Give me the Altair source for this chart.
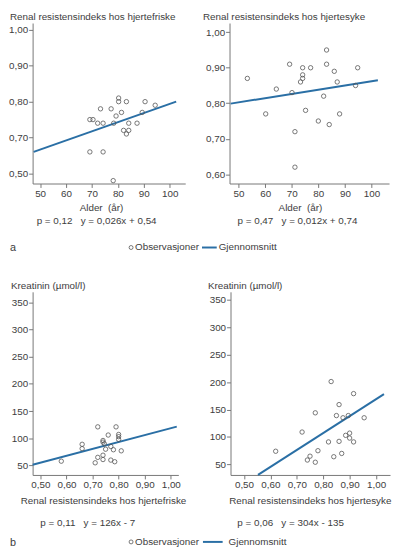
import altair as alt
import pandas as pd

FONT = "Liberation Sans"
TXT = "#3d3d3d"
AXC = "#777777"
BLUE = "#2a6fa5"
PTC = "#555555"

# ---------------- data ----------------
a1_age = [69.2, 70.4, 69.2, 74.3, 72.2, 74.3, 73.3, 77.4, 78.4, 79.3, 80.3, 80.3,
          81.4, 83.3, 82.2, 83.3, 84.2, 84.2, 87.4, 89.4, 90.5, 94.4, 78.2]
a1_ri = [0.75, 0.75, 0.66, 0.66, 0.74, 0.74, 0.78, 0.78, 0.74, 0.76, 0.81, 0.80,
         0.77, 0.80, 0.72, 0.71, 0.74, 0.72, 0.74, 0.77, 0.80, 0.79, 0.58]
a1_line_x = [47.5, 102.5]
a1_line_y = [0.66, 0.80]

a2_age = [53.3, 64.2, 60.2, 69.2, 70.1, 71.2, 71.2, 73.3, 74.1, 74.1, 74.1, 75.2,
          77.1, 80.0, 82.0, 83.1, 83.1, 84.1, 86.0, 87.1, 88.0, 94.0, 94.8]
a2_ri = [0.87, 0.84, 0.77, 0.91, 0.83, 0.72, 0.62, 0.86, 0.90, 0.88, 0.87, 0.78,
         0.90, 0.75, 0.82, 0.95, 0.91, 0.74, 0.89, 0.86, 0.77, 0.85, 0.90]
a2_line_x = [47.0, 102.4]
a2_line_y = [0.799, 0.865]

b1_ri = [0.58, 0.66, 0.66, 0.72, 0.71, 0.72, 0.74, 0.74, 0.745, 0.74, 0.74, 0.76,
         0.75, 0.77, 0.78, 0.77, 0.785, 0.79, 0.80, 0.80, 0.80, 0.81]
b1_kr = [58, 89, 81, 121, 55, 65, 96, 93, 90, 69, 61, 106,
         80, 85, 79, 60, 57, 121, 107, 103, 98, 77]
b1_line_x = [0.47, 1.023]
b1_line_y = [51.5, 121.5]

b2_ri = [0.62, 0.72, 0.77, 0.83, 0.915, 0.86, 0.85, 0.875, 0.895, 0.955, 0.78,
         0.75, 0.74, 0.77, 0.82, 0.84, 0.86, 0.87, 0.885, 0.90, 0.90, 0.915]
b2_kr = [74, 109, 144, 201, 179, 159, 139, 135, 139, 135, 75,
         65, 58, 54, 91, 64, 92, 70, 103, 107, 98, 91]
b2_line_x = [0.553, 1.03]
b2_line_y = [31, 178]

age_ticks = [50, 60, 70, 80, 90, 100]
age_labels = ["50", "60", "70", "80", "90", "100"]
a1_yticks = [0.6, 0.7, 0.8, 0.9, 1.0]
a1_ylabels = ["0,50", "0,70", "0,80", "0,90", "1,00"]
a2_yticks = [0.6, 0.7, 0.8, 0.9, 1.0]
a2_ylabels = ["0,60", "0,70", "0,80", "0,90", "1,00"]
ri_ticks = [0.5, 0.6, 0.7, 0.8, 0.9, 1.0]
ri_labels = ["0,50", "0,60", "0,70", "0,80", "0,90", "1,00"]
kr_ticks = [50, 100, 150, 200, 250, 300, 350]
kr_labels = ["50", "100", "150", "200", "250", "300", "350"]

title_healthy = "Renal resistensindeks hos hjertefriske"
title_sick = "Renal resistensindeks hos hjertesyke"
kreat_title = "Kreatinin (\u00b5mol/l)"
age_title = "Alder\u00a0\u00a0(\u00e5r)"
stats_a1 = "p = 0,12\u00a0\u00a0\u00a0y = 0,026x + 0,54"
stats_a2 = "p = 0,47\u00a0\u00a0\u00a0y = 0,012x + 0,74"
stats_b1 = "p = 0,11\u00a0\u00a0\u00a0y = 126x - 7"
stats_b2 = "p = 0,06\u00a0\u00a0\u00a0y = 304x - 135"
leg_obs = "Observasjoner"
leg_mean = "Gjennomsnitt"


def lexpr(values, labels):
    expr = "''"
    for v, l in reversed(list(zip(values, labels))):
        expr = f"abs(datum.value - {v}) < 1e-6 ? '{l}' : ({expr})"
    return expr


AXSTYLE = dict(title=None, grid=False, domainColor=AXC, tickColor=AXC, tickSize=4,
               labelFontSize=10, labelColor=TXT, labelFont=FONT, labelPadding=1,
               domainWidth=1, tickWidth=1, labelFlush=False, labelOverlap=False)


def txt(s, x, y, align="left", size=10, baseline="middle"):
    return alt.Chart(pd.DataFrame({"t": [s]})).mark_text(
        align=align, baseline=baseline, fontSize=size, font=FONT, color=TXT
    ).encode(x=alt.value(x), y=alt.value(y), text="t:N")


def panel(xv, yv, xdom, ydom, xt, xl, yt, yl, lx, ly, w, h, extra):
    xs = alt.Scale(domain=xdom, nice=False, zero=False)
    ys = alt.Scale(domain=ydom, nice=False, zero=False)
    xa = alt.Axis(values=xt, labelExpr=lexpr(xt, xl), **AXSTYLE)
    ya = alt.Axis(values=yt, labelExpr=lexpr(yt, yl), **AXSTYLE)
    line = alt.Chart(pd.DataFrame({"x": lx, "y": ly})).mark_line(
        color=BLUE, strokeWidth=2
    ).encode(x=alt.X("x:Q", scale=xs, axis=xa), y=alt.Y("y:Q", scale=ys, axis=ya))
    pts = alt.Chart(pd.DataFrame({"x": xv, "y": yv})).mark_point(
        shape="circle", filled=False, size=20, color=PTC, strokeWidth=0.8, opacity=1
    ).encode(x=alt.X("x:Q", scale=xs, axis=xa), y=alt.Y("y:Q", scale=ys, axis=ya))
    return alt.layer(line, pts, *extra).properties(width=w, height=h)


def legend(letter, y, circ_x, line_x1, line_x2, mean_x):
    circ = alt.Chart(pd.DataFrame({"k": [0]})).mark_point(
        shape="circle", filled=False, size=16, color=PTC, strokeWidth=0.8, opacity=1
    ).encode(x=alt.value(circ_x), y=alt.value(y))
    rule = alt.Chart(pd.DataFrame({"k": [0]})).mark_rule(color=BLUE, strokeWidth=2).encode(
        x=alt.value(line_x1), x2=alt.value(line_x2), y=alt.value(y))
    return [txt(letter, -23, y + 1, size=11), circ, txt(leg_obs, circ_x + 4, y),
            rule, txt(leg_mean, mean_x, y)]


WA1, WA2, HA = 155, 162, 163
WB1, WB2, HB = 148, 162, 186
TITLE_Y = -11
ROW_STEP = 273  # from top-row plot top to bottom-row plot top

A1 = panel(a1_age, a1_ri, [47.1, 106], [0.572, 1.019], age_ticks, age_labels,
           a1_yticks, a1_ylabels, a1_line_x, a1_line_y, WA1, HA,
           [txt(title_healthy, -23, TITLE_Y, baseline="top"),
            txt(age_title, 70, HA + 25, "center"),
            txt(stats_a1, 65, HA + 38, "center")] + legend("a", HA + 65, 100, 172, 187, 189))
A2 = panel(a2_age, a2_ri, [46.6, 106.6], [0.574, 1.026], age_ticks, age_labels,
           a2_yticks, a2_ylabels, a2_line_x, a2_line_y, WA2, HA,
           [txt(title_sick, -27, TITLE_Y, baseline="top"),
            txt(age_title, 72, HA + 25, "center"),
            txt(stats_a2, 69, HA + 38, "center")])
B1 = panel(b1_ri, b1_kr, [0.47, 1.029], [32.7, 369], ri_ticks, ri_labels,
           kr_ticks, kr_labels, b1_line_x, b1_line_y, WB1, HB,
           [txt(kreat_title, -22, TITLE_Y, baseline="top"),
            txt(title_healthy, 72, HB + 27, "center"),
            txt(stats_b1, 56, HB + 49, "center")] + legend("b", HB + 68, 100, 173, 193, 199))
B2 = panel(b2_ri, b2_kr, [0.449, 1.053], [30.8, 364.5], ri_ticks, ri_labels,
           kr_ticks, kr_labels, b2_line_x, b2_line_y, WB2, HB,
           [txt(kreat_title, -23, TITLE_Y, baseline="top"),
            txt(title_sick, 81, HB + 27, "center"),
            txt(stats_b2, 61, HB + 49, "center")])

top = alt.hconcat(A1, A2, spacing=45, bounds="flush")
bottom = alt.hconcat(B1, B2, spacing=53, bounds="flush")
# nested flush rows report no height, so the row spacing is the full step between rows
chart = alt.vconcat(top, bottom, spacing=ROW_STEP, bounds="flush").properties(
    padding=0
).configure(font=FONT).configure_view(stroke=None)

chart.save("out.html", embed_options={"renderer": "svg", "actions": False})
